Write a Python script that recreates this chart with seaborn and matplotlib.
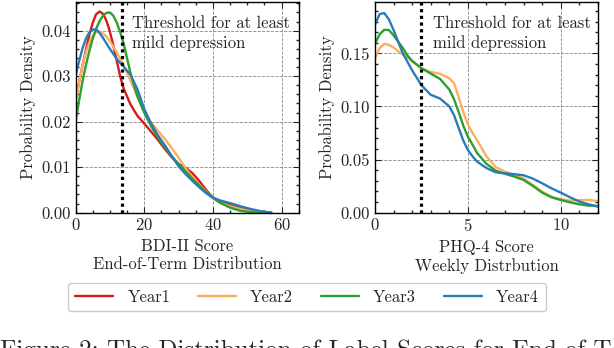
import numpy as np
import pandas as pd
import seaborn as sns
import matplotlib
matplotlib.use("Agg")
from matplotlib import pyplot as plt

# ---- data (KDE curves) ----
years = ["Year1", "Year2", "Year3", "Year4"]
year_colors = ["#d7191c", "#fdae61", "#2ca02c", "#2c7bb6"]

bdi_x = [0, 1, 2, 3, 4, 5, 6, 7, 8, 9, 10, 11, 12, 13, 14, 16, 18, 20, 22, 24,
         26, 28, 30, 32, 34, 36, 38, 40, 42, 45, 48, 51, 54, 57]
bdi_year1 = [0.0248, 0.0285, 0.0322, 0.0357, 0.0390, 0.0417, 0.0436, 0.0442, 0.0437,
             0.0422, 0.0398, 0.0368, 0.0334, 0.0300, 0.0273, 0.0238, 0.0213, 0.0196,
             0.0178, 0.0160, 0.0140, 0.0122, 0.0107, 0.0099, 0.0087, 0.0070, 0.0050,
             0.0033, 0.0025, 0.0017, 0.0010, 0.0005, 0.0002, 0.0]
bdi_year2 = [0.0240, 0.0285, 0.0323, 0.0352, 0.0374, 0.0389, 0.0397, 0.0398, 0.0394,
             0.0387, 0.0377, 0.0365, 0.0352, 0.0338, 0.0323, 0.0290, 0.0256, 0.0222,
             0.0198, 0.0180, 0.0162, 0.0142, 0.0121, 0.0098, 0.0078, 0.0062, 0.0046,
             0.0032, 0.0022, 0.0014, 0.0008, 0.0003, 0.0, 0.0]
bdi_year3 = [0.0200, 0.0245, 0.0287, 0.0323, 0.0355, 0.0382, 0.0404, 0.0421, 0.0433,
             0.0439, 0.0440, 0.0433, 0.0418, 0.0397, 0.0372, 0.0307, 0.0256, 0.0220,
             0.0190, 0.0165, 0.0143, 0.0124, 0.0107, 0.0091, 0.0075, 0.0060, 0.0045,
             0.0033, 0.0022, 0.0011, 0.0004, 0.0001, 0.0, 0.0]
bdi_year4 = [0.0300, 0.0332, 0.0360, 0.0382, 0.0396, 0.0402, 0.0403, 0.0395, 0.0384,
             0.0372, 0.0360, 0.0349, 0.0338, 0.0329, 0.0321, 0.0303, 0.0272, 0.0228,
             0.0196, 0.0170, 0.0148, 0.0125, 0.0102, 0.0085, 0.0070, 0.0056, 0.0043,
             0.0033, 0.0027, 0.0021, 0.0014, 0.0008, 0.0003, 0.0]

phq_x = [0, 0.25, 0.5, 0.75, 1, 1.25, 1.5, 1.75, 2, 2.5, 3, 3.5, 4, 4.25, 4.5, 4.75,
         5, 5.25, 5.5, 6, 6.5, 7, 7.5, 8, 8.5, 9, 9.5, 10, 10.5, 11, 11.5, 12]
phq_year2 = [0.145, 0.155, 0.159, 0.158, 0.1555, 0.152, 0.149, 0.146, 0.1425, 0.136,
             0.1325, 0.1308, 0.1265, 0.122, 0.109, 0.095, 0.083, 0.075, 0.068, 0.053,
             0.043, 0.0385, 0.0355, 0.0323, 0.0260, 0.0198, 0.0150, 0.0126, 0.0113,
             0.0119, 0.0119, 0.0110]
phq_year3 = [0.159, 0.168, 0.1722, 0.172, 0.167, 0.161, 0.155, 0.148, 0.143, 0.136,
             0.131, 0.126, 0.116, 0.107, 0.095, 0.082, 0.0715, 0.064, 0.056, 0.046,
             0.0395, 0.0365, 0.0340, 0.0307, 0.0251, 0.0188, 0.0144, 0.0119, 0.0097,
             0.0078, 0.0066, 0.0063]
phq_year4 = [0.177, 0.187, 0.188, 0.182, 0.172, 0.161, 0.150, 0.142, 0.134, 0.120,
             0.111, 0.1075, 0.100, 0.092, 0.080, 0.068, 0.059, 0.053, 0.048, 0.042,
             0.038, 0.0370, 0.0362, 0.0352, 0.0320, 0.0276, 0.0229, 0.0188, 0.0144,
             0.0104, 0.0078, 0.0056]

bdi_threshold = 13.5
phq_threshold = 2.5

# long tables for seaborn
bdi_df = pd.concat([pd.DataFrame({"score": bdi_x, "density": d, "year": y})
                    for y, d in zip(years, [bdi_year1, bdi_year2, bdi_year3, bdi_year4])])
phq_df = pd.concat([pd.DataFrame({"score": phq_x, "density": d, "year": y})
                    for y, d in zip(years[1:], [phq_year2, phq_year3, phq_year4])])
palette = dict(zip(years, year_colors))

sns.set_theme(style="ticks")
plt.rcParams.update({
    "font.family": "serif",
    "font.serif": ["cmr10"],
    "mathtext.fontset": "cm",
    "axes.formatter.use_mathtext": True,
    "axes.unicode_minus": False,
    "font.size": 12,
    "axes.labelsize": 12,
    "xtick.labelsize": 12,
    "ytick.labelsize": 12,
    "legend.fontsize": 12,
    "xtick.direction": "in",
    "ytick.direction": "in",
    "xtick.top": True,
    "ytick.right": True,
    "xtick.minor.visible": True,
    "ytick.minor.visible": True,
    "xtick.major.size": 4,
    "ytick.major.size": 4,
    "xtick.minor.size": 2.2,
    "ytick.minor.size": 2.2,
    "xtick.major.width": 0.8,
    "ytick.major.width": 0.8,
    "axes.edgecolor": "black",
    "axes.linewidth": 1.0,
})

fig = plt.figure(figsize=(6.14, 3.48), dpi=100)
ax1 = fig.add_axes([0.123, 0.389, 0.3635, 0.604])
ax2 = fig.add_axes([0.6107, 0.389, 0.3632, 0.604])

sns.lineplot(data=bdi_df, x="score", y="density", hue="year", palette=palette,
             linewidth=1.7, ax=ax1, legend=True)
sns.lineplot(data=phq_df, x="score", y="density", hue="year", palette=palette,
             linewidth=1.7, ax=ax2, legend=False)

handles, labels = ax1.get_legend_handles_labels()
ax1.get_legend().remove()

for ax, thr, xlim, ylim, xlab in [
        (ax1, bdi_threshold, (0, 65), (0, 0.0462), "BDI-II Score\nEnd-of-Term Distribution"),
        (ax2, phq_threshold, (0, 12), (0, 0.198), "PHQ-4 Score\nWeekly Distrbution")]:
    ax.axvline(thr, color="black", linewidth=2.3, linestyle=(0, (1, 1.1)),
               dash_capstyle="butt", zorder=3)
    ax.set_xlim(*xlim)
    ax.set_ylim(*ylim)
    ax.grid(True, which="major", linestyle="--", linewidth=0.6, color="#888888")
    ax.set_axisbelow(True)
    ax.set_xlabel(xlab, linespacing=1.2)
    ax.set_ylabel("Probability Density")

ax1.set_xticks([0, 20, 40, 60])
ax1.set_yticks([0, 0.01, 0.02, 0.03, 0.04])
ax1.yaxis.set_major_formatter(matplotlib.ticker.FormatStrFormatter("%.2f"))
ax2.set_xticks([0, 5, 10])
ax2.set_yticks([0, 0.05, 0.10, 0.15])
ax2.yaxis.set_major_formatter(matplotlib.ticker.FormatStrFormatter("%.2f"))

ax1.text(16.4, 0.0394, "Threshold for at least\nmild depression", fontsize=12,
         va="center", ha="left", linespacing=1.3)
ax2.text(3.1, 0.169, "Threshold for at least\nmild depression", fontsize=12,
         va="center", ha="left", linespacing=1.3)

fig.legend(handles, labels, loc="center", bbox_to_anchor=(0.5, 0.147), ncol=4,
           frameon=True, fancybox=True, edgecolor="#cccccc", framealpha=1,
           handlelength=2.3, handletextpad=0.85, columnspacing=1.65)

fig.text(0.0, 0.024, "Figure 2: The Distribution of Label Scores for End-of-Term",
         fontsize=18, va="top", ha="left")

fig.savefig("out.png", dpi=100)
